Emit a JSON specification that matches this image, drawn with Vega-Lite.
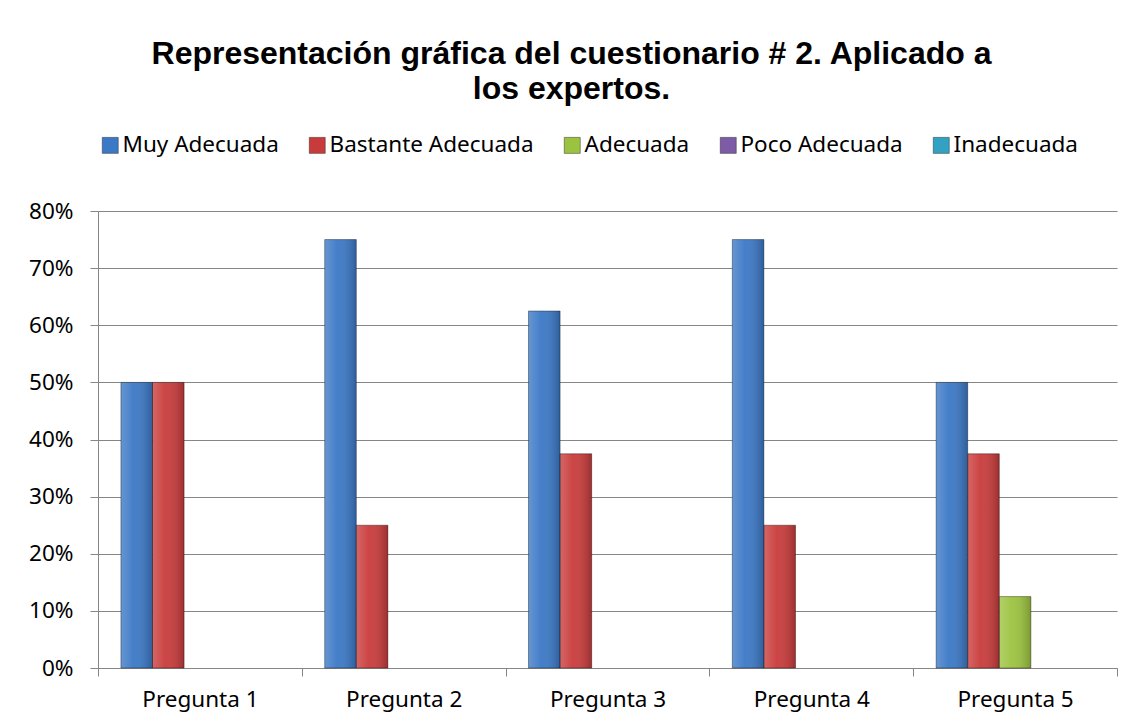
{
  "$schema": "https://vega.github.io/schema/vega-lite/v6.json",
  "width": 1019,
  "height": 457,
  "autosize": "none",
  "padding": {"left": 98, "top": 211, "right": 22, "bottom": 52},
  "background": "white",
  "title": {
    "text": ["Representación gráfica del cuestionario # 2. Aplicado a", "los expertos."],
    "font": "Liberation Sans",
    "fontWeight": "bold",
    "fontSize": 32,
    "lineHeight": 35,
    "color": "#000000",
    "anchor": "middle",
    "dx": -36,
    "offset": 28
  },
  "data": {
    "values": [
      {"pregunta": "Pregunta 1", "categoria": "Muy Adecuada", "valor": 0.5},
      {"pregunta": "Pregunta 1", "categoria": "Bastante Adecuada", "valor": 0.5},
      {"pregunta": "Pregunta 2", "categoria": "Muy Adecuada", "valor": 0.75},
      {"pregunta": "Pregunta 2", "categoria": "Bastante Adecuada", "valor": 0.25},
      {"pregunta": "Pregunta 3", "categoria": "Muy Adecuada", "valor": 0.625},
      {"pregunta": "Pregunta 3", "categoria": "Bastante Adecuada", "valor": 0.375},
      {"pregunta": "Pregunta 4", "categoria": "Muy Adecuada", "valor": 0.75},
      {"pregunta": "Pregunta 4", "categoria": "Bastante Adecuada", "valor": 0.25},
      {"pregunta": "Pregunta 5", "categoria": "Muy Adecuada", "valor": 0.5},
      {"pregunta": "Pregunta 5", "categoria": "Bastante Adecuada", "valor": 0.375},
      {"pregunta": "Pregunta 5", "categoria": "Adecuada", "valor": 0.125}
    ]
  },
  "encoding": {
    "x": {
      "field": "pregunta",
      "type": "nominal",
      "sort": null,
      "scale": {"paddingInner": 0, "paddingOuter": 0},
      "axis": {
        "title": null,
        "labelAngle": 0,
        "labelFont": "Noto Sans",
        "labelFontSize": 22.5,
        "labelColor": "#000000",
        "labelPadding": 12,
        "tickBand": "extent",
        "tickSize": 8,
        "tickColor": "#868686",
        "domainColor": "#868686",
        "grid": false
      }
    },
    "xOffset": {
      "field": "categoria",
      "type": "nominal",
      "scale": {
        "domain": ["Muy Adecuada", "Bastante Adecuada", "Adecuada", "Poco Adecuada", "Inadecuada"],
        "paddingInner": 0,
        "paddingOuter": 0.725
      }
    },
    "y": {
      "field": "valor",
      "type": "quantitative",
      "scale": {"domain": [0, 0.8], "nice": false},
      "axis": {
        "title": null,
        "format": ".0%",
        "values": [0, 0.1, 0.2, 0.3, 0.4, 0.5, 0.6, 0.7, 0.8],
        "labelFont": "Noto Sans",
        "labelFontSize": 22.5,
        "labelColor": "#000000",
        "labelPadding": 17,
        "tickSize": 8,
        "tickColor": "#868686",
        "domainColor": "#868686",
        "grid": true,
        "gridColor": "#868686",
        "gridWidth": 1
      }
    }
  },
  "layer": [
    {
      "mark": {"type": "bar"},
      "encoding": {
        "color": {
          "field": "categoria",
          "type": "nominal",
          "scale": {
            "domain": ["Muy Adecuada", "Bastante Adecuada", "Adecuada", "Poco Adecuada", "Inadecuada"],
            "range": ["#3B78C6", "#C93B3B", "#9CC33F", "#7D5BA6", "#31A2C2"]
          },
          "legend": {
            "title": null,
            "orient": "none",
            "legendX": 1,
            "legendY": -77,
            "direction": "horizontal",
            "columns": 5,
            "columnPadding": 27,
            "symbolType": "square",
            "symbolSize": 256,
            "symbolStrokeColor": "#333333",
            "symbolStrokeWidth": 0.5,
            "labelFont": "Noto Sans",
            "labelFontSize": 22.5,
            "labelColor": "#000000",
            "labelOffset": 1,
            "labelLimit": 400
          }
        }
      }
    },
    {
      "mark": {
        "type": "bar",
        "stroke": "rgba(0,0,0,0.35)",
        "strokeWidth": 1,
        "color": {
          "gradient": "linear",
          "x1": 0, "y1": 0, "x2": 1, "y2": 0,
          "stops": [
            {"offset": 0, "color": "rgba(255,255,255,0.22)"},
            {"offset": 0.4, "color": "rgba(255,255,255,0.05)"},
            {"offset": 1, "color": "rgba(0,0,0,0.22)"}
          ]
        }
      }
    }
  ],
  "config": {
    "view": {"stroke": null}
  }
}
